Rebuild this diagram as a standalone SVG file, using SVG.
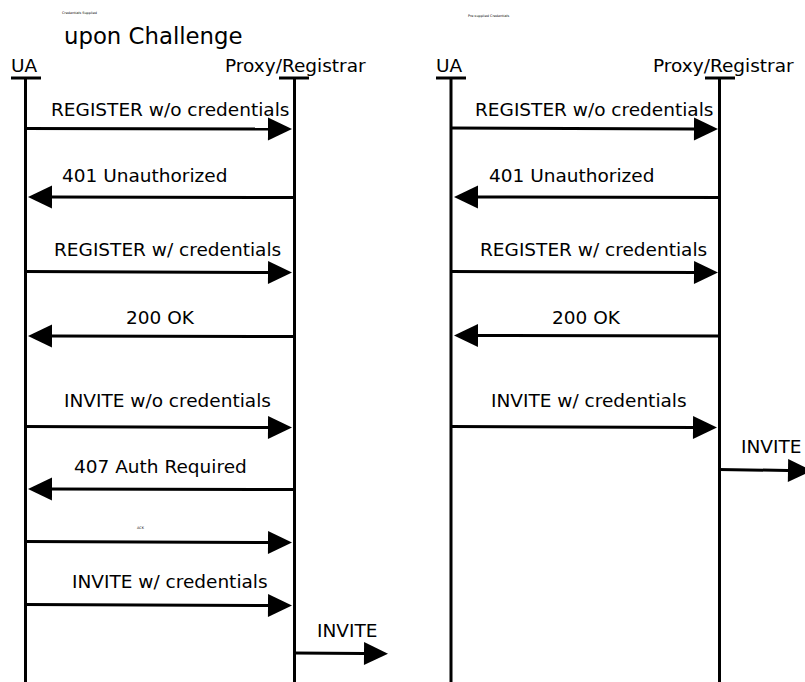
<svg xmlns="http://www.w3.org/2000/svg" width="805" height="682" viewBox="0 0 805 682">
<style>
text{font-family:"DejaVu Sans","Liberation Sans",sans-serif;fill:#000}
.lbl{font-size:18.5px}
.title{font-size:22.8px}
.tiny{font-size:3.4px}
.life{stroke:#000;stroke-width:3;fill:none}
.msg{stroke:#000;stroke-width:3;fill:none;marker-end:url(#ah)}
</style>
<defs>
<marker id="ah" markerUnits="userSpaceOnUse" viewBox="0 -12 24 24" refX="0" refY="0" markerWidth="24" markerHeight="24" orient="auto" overflow="visible">
<path d="M0,-11.5 L24,0 L0,11.5 Z" fill="#000"/>
</marker>
</defs>
<rect width="805" height="682" fill="#fff"/>
<text class="tiny" x="62" y="14">Credentials Supplied</text>
<text class="title" x="64" y="44">upon Challenge</text>
<text class="tiny" x="468" y="17">Pre-supplied Credentials</text>
<g id="ua-left">
<text class="lbl" x="11" y="72">UA</text>
<line class="life" x1="11" y1="78" x2="41" y2="78"/>
<line class="life" x1="25.5" y1="78" x2="25.5" y2="682"/>
</g>
<g id="proxy-left">
<text class="lbl" x="225" y="72">Proxy/Registrar</text>
<line class="life" x1="279" y1="78" x2="309" y2="78"/>
<line class="life" x1="294.5" y1="78" x2="294.5" y2="682"/>
</g>
<g id="ua-right">
<text class="lbl" x="436" y="72">UA</text>
<line class="life" x1="436" y1="78" x2="466" y2="78"/>
<line class="life" x1="451" y1="78" x2="451" y2="682"/>
</g>
<g id="proxy-right">
<text class="lbl" x="653" y="72">Proxy/Registrar</text>
<line class="life" x1="705" y1="78" x2="735" y2="78"/>
<line class="life" x1="719.5" y1="78" x2="719.5" y2="682"/>
</g>
<g id="connectors">
<line class="msg" x1="25" y1="128.5" x2="268" y2="129"/>
<line class="msg" x1="294" y1="197.5" x2="52" y2="197"/>
<line class="msg" x1="25" y1="271.5" x2="268" y2="272.5"/>
<line class="msg" x1="294" y1="336.5" x2="52" y2="336"/>
<line class="msg" x1="25" y1="426.5" x2="268" y2="427.5"/>
<line class="msg" x1="294" y1="489.5" x2="52" y2="489"/>
<line class="msg" x1="25" y1="541.5" x2="268" y2="542.5"/>
<line class="msg" x1="25" y1="604.5" x2="268" y2="605.5"/>
<line class="msg" x1="294" y1="653" x2="364" y2="653.5"/>
<line class="msg" x1="451" y1="128" x2="694" y2="129"/>
<line class="msg" x1="719" y1="197.5" x2="478" y2="197"/>
<line class="msg" x1="451" y1="271.5" x2="694" y2="272.5"/>
<line class="msg" x1="719" y1="336" x2="478" y2="335.5"/>
<line class="msg" x1="451" y1="426.5" x2="693" y2="427.5"/>
<line class="msg" x1="719" y1="469.5" x2="788" y2="470.5"/>
</g>
<g id="labels">
<text class="lbl" x="51" y="116">REGISTER w/o credentials</text>
<text class="lbl" x="62" y="182">401 Unauthorized</text>
<text class="lbl" x="54" y="256">REGISTER w/ credentials</text>
<text class="lbl" x="126" y="324">200 OK</text>
<text class="lbl" x="64" y="407">INVITE w/o credentials</text>
<text class="lbl" x="74" y="473">407 Auth Required</text>
<text class="tiny" x="137" y="529">ACK</text>
<text class="lbl" x="72" y="588">INVITE w/ credentials</text>
<text class="lbl" x="317" y="637">INVITE</text>
<text class="lbl" x="475" y="116">REGISTER w/o credentials</text>
<text class="lbl" x="489" y="182">401 Unauthorized</text>
<text class="lbl" x="480" y="256">REGISTER w/ credentials</text>
<text class="lbl" x="552" y="324">200 OK</text>
<text class="lbl" x="491" y="407">INVITE w/ credentials</text>
<text class="lbl" x="741" y="453">INVITE</text>
</g>
</svg>
